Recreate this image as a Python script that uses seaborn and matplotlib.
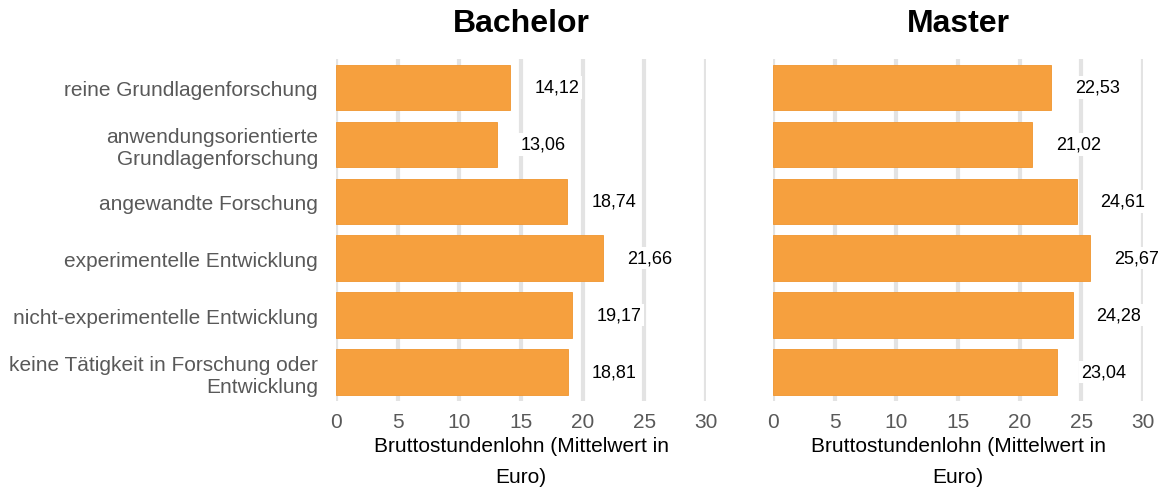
import matplotlib
matplotlib.use("Agg")
import matplotlib.pyplot as plt
import seaborn as sns
import pandas as pd

sns.set_theme(style="white")
plt.rcParams["font.family"] = ["Liberation Sans", "DejaVu Sans"]

categories = [
    "reine Grundlagenforschung",
    "anwendungsorientierte\nGrundlagenforschung",
    "angewandte Forschung",
    "experimentelle Entwicklung",
    "nicht-experimentelle Entwicklung",
    "keine Tätigkeit in Forschung oder\nEntwicklung",
]
bachelor = [14.12, 13.06, 18.74, 21.66, 19.17, 18.81]
master = [22.53, 21.02, 24.61, 25.67, 24.28, 23.04]
panels = ["Bachelor", "Master"]
xticks = [0, 5, 10, 15, 20, 25, 30]
xlabel = "Bruttostundenlohn (Mittelwert in\nEuro)"

bar_color = "#F6A03E"
grid_color = "#E3E3E3"
tick_color = "#595959"

fig = plt.figure(figsize=(11.67, 4.89), dpi=100)
ax_l = fig.add_axes([0.2879, 0.1789, 0.3171, 0.6984])
ax_r = fig.add_axes([0.6624, 0.1789, 0.3171, 0.6984])

for ax, title, values in zip([ax_l, ax_r], panels, [bachelor, master]):
    df = pd.DataFrame({"Kategorie": categories, "Wert": values})
    ax.set_axisbelow(True)
    for t in xticks:
        ax.axvline(t, color=grid_color, lw=3, zorder=0)
    sns.barplot(data=df, x="Wert", y="Kategorie", orient="h", color=bar_color,
                saturation=1, width=0.8, ax=ax, zorder=2)
    for p in ax.patches:
        p.set_edgecolor("#F0952E")
        p.set_linewidth(0.6)
    for i, v in enumerate(values):
        ax.annotate(f"{v:.2f}".replace(".", ","), xy=(v, i), xytext=(24, 0),
                    textcoords="offset pixels",
                    ha="left", va="center", fontsize=13, color="black",
                    bbox=dict(boxstyle="square,pad=0.15", fc="white", ec="none"),
                    zorder=5, annotation_clip=False)
    ax.set_xlim(0, 30)
    ax.set_ylim(5.5, -0.5)
    ax.set_xticks(xticks)
    ax.set_xticklabels([str(t) for t in xticks], fontsize=15, color=tick_color)
    ax.tick_params(axis="x", length=0, pad=8)
    ax.tick_params(axis="y", length=0, pad=13)
    ax.set_xlabel(xlabel, fontsize=15, color="black", linespacing=1.8, labelpad=4)
    ax.set_ylabel("")
    ax.set_title(title, fontsize=23, fontweight="bold", color="black", pad=20)
    sns.despine(ax=ax, left=True, bottom=True)

ax_l.set_yticks(range(len(categories)))
ax_l.set_yticklabels(categories, fontsize=15, color=tick_color)
ax_r.set_yticks([])
ax_r.set_yticklabels([])

fig.savefig("out.png", dpi=100)
